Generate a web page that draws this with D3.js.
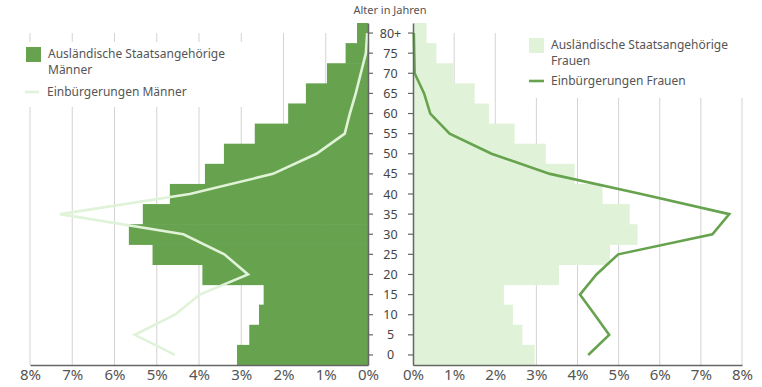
<!DOCTYPE html>
<html>
<head>
<meta charset="utf-8">
<script src="https://cdn.jsdelivr.net/npm/d3@7/dist/d3.min.js"></script>
<style>
  body { margin: 0; background: #fff; }
  svg { font-family: "Noto Sans", sans-serif; }
</style>
</head>
<body>
<div id="chart"></div>
<script>
// age groups, bottom to top
const ages = ["0", "5", "10", "15", "20", "25", "30", "35", "40", "45", "50", "55", "60", "65", "70", "75", "80+"];
// share in % per age group
const menForeign = [3.10, 2.81, 2.58, 2.47, 3.92, 5.10, 5.66, 5.33, 4.69, 3.86, 3.41, 2.68, 1.89, 1.47, 0.97, 0.53, 0.26];
const menNatur = [4.57, 5.52, 4.57, 3.98, 2.84, 3.40, 4.37, 7.29, 4.22, 2.25, 1.22, 0.55, 0.43, 0.29, 0.17, 0.05, 0.02];
const womenForeign = [2.96, 2.66, 2.43, 2.21, 3.55, 4.79, 5.46, 5.27, 4.61, 3.93, 3.23, 2.47, 1.85, 1.50, 0.99, 0.57, 0.33];
const womenNatur = [4.26, 4.77, 4.42, 4.06, 4.46, 4.99, 7.28, 7.69, 5.55, 3.33, 1.91, 0.89, 0.42, 0.27, 0.04, 0.03, 0.02];
const pctTicks = [0, 1, 2, 3, 4, 5, 6, 7, 8];

const dark = "#67a34e", light = "#e0f3d8", grid = "#d3d3d3", axisCol = "#666", txt = "#555";

const svg = d3.select("#chart").append("svg")
    .attr("width", 762)
    .attr("height", 387);

const y = d3.scaleBand().domain(ages).range([365, 23]).padding(0);
const xL = d3.scaleLinear().domain([0, 8]).range([368, 30]);
const xR = d3.scaleLinear().domain([0, 8]).range([413, 742]);

// gridlines
function gridLines(x) {
    svg.append("g").selectAll("line")
        .data(pctTicks.filter(d => d > 0))
        .enter().append("line")
        .attr("x1", d => x(d)).attr("x2", d => x(d))
        .attr("y1", 33).attr("y2", 365)
        .attr("stroke", grid).attr("stroke-width", 1);
}
gridLines(xL);
gridLines(xR);

// legend backgrounds cover the gridlines
svg.append("rect").attr("x", 20).attr("y", 42).attr("width", 245).attr("height", 65).attr("fill", "#fff");
svg.append("rect").attr("x", 505).attr("y", 0).attr("width", 257).attr("height", 98).attr("fill", "#fff");

// bars (small overlap so no seams show between bands)
svg.append("g").selectAll("rect")
    .data(menForeign)
    .enter().append("rect")
    .attr("x", d => xL(d))
    .attr("y", (d, i) => y(ages[i]))
    .attr("width", d => xL(0) - xL(d))
    .attr("height", y.bandwidth() + 0.6)
    .attr("fill", dark);

svg.append("g").selectAll("rect")
    .data(womenForeign)
    .enter().append("rect")
    .attr("x", xR(0))
    .attr("y", (d, i) => y(ages[i]))
    .attr("width", d => xR(d) - xR(0))
    .attr("height", y.bandwidth() + 0.6)
    .attr("fill", light);

// lines
const yc = a => y(a) + y.bandwidth() / 2;
svg.append("path")
    .datum(menNatur)
    .attr("d", d3.line().x(d => xL(d)).y((d, i) => yc(ages[i])))
    .attr("fill", "none").attr("stroke", light).attr("stroke-width", 2.6);
svg.append("path")
    .datum(womenNatur)
    .attr("d", d3.line().x(d => xR(d)).y((d, i) => yc(ages[i])))
    .attr("fill", "none").attr("stroke", dark).attr("stroke-width", 2.6);

// x axes
function xAxis(x) {
    const g = svg.append("g")
        .attr("transform", "translate(0,365)")
        .call(d3.axisBottom(x).tickValues(pctTicks).tickFormat(d => d + "%").tickSize(0).tickPadding(4));
    g.select(".domain").attr("stroke", axisCol).attr("stroke-width", 1.5);
    g.selectAll("text").attr("fill", txt).style("font-size", "15px").style("font-family", "Noto Sans");
}
xAxis(xL);
xAxis(xR);

// y axes
const gl = svg.append("g").attr("transform", "translate(368,0)")
    .call(d3.axisRight(y).tickSize(5).tickSizeOuter(0).tickFormat(""));
const gr = svg.append("g").attr("transform", "translate(413,0)")
    .call(d3.axisLeft(y).tickSize(5).tickSizeOuter(0).tickFormat(""));
[gl, gr].forEach(g => {
    g.select(".domain").attr("stroke", axisCol).attr("stroke-width", 1.5);
    g.selectAll(".tick line").attr("stroke", axisCol).attr("stroke-width", 1.2);
});

svg.append("g").selectAll("text")
    .data(ages)
    .enter().append("text")
    .attr("x", 390.5)
    .attr("y", d => yc(d))
    .attr("dy", "0.36em")
    .attr("text-anchor", "middle")
    .attr("fill", "#444")
    .style("font-size", "12.5px")
    .text(d => d);

svg.append("text")
    .attr("x", 390).attr("y", 14)
    .attr("text-anchor", "middle")
    .attr("fill", "#555")
    .style("font-size", "11px")
    .text("Alter in Jahren");

// legends
function legend(x0, y0, lines, fill) {
    svg.append("rect").attr("x", x0).attr("y", y0).attr("width", 15).attr("height", 15).attr("fill", fill);
    lines.forEach((t, i) => {
        svg.append("text").attr("x", x0 + 22).attr("y", y0 + 11 + i * 16)
            .attr("fill", txt).style("font-size", "12px").text(t);
    });
}
legend(26, 47, ["Ausländische Staatsangehörige", "Männer"], dark);
svg.append("line").attr("x1", 25).attr("x2", 39).attr("y1", 92).attr("y2", 92)
    .attr("stroke", light).attr("stroke-width", 2.6);
svg.append("text").attr("x", 47).attr("y", 96).attr("fill", txt).style("font-size", "12px")
    .text("Einbürgerungen Männer");

legend(529, 38, ["Ausländische Staatsangehörige", "Frauen"], light);
svg.append("line").attr("x1", 529).attr("x2", 544).attr("y1", 81).attr("y2", 81)
    .attr("stroke", dark).attr("stroke-width", 2.6);
svg.append("text").attr("x", 551).attr("y", 85).attr("fill", txt).style("font-size", "12px")
    .text("Einbürgerungen Frauen");
</script>
</body>
</html>
